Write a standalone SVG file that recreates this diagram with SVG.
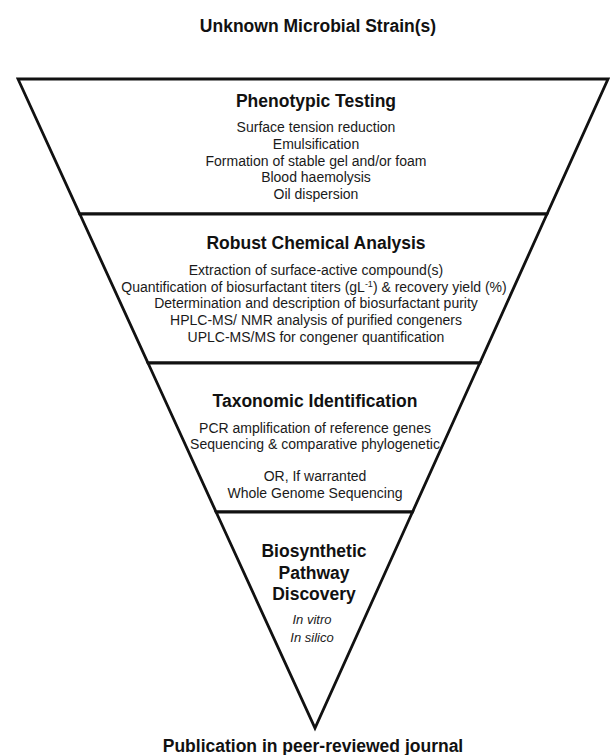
<svg xmlns="http://www.w3.org/2000/svg" width="610" height="755" viewBox="0 0 610 755">
<style>
  .stage { fill: #ffffff; stroke: #111111; stroke-width: 2.8; stroke-linejoin: miter; }
  .title { font-family: "Liberation Sans", Arial, sans-serif; font-weight: bold; font-size: 17.5px; fill: #111111; text-anchor: middle; }
  .body { font-family: "Liberation Sans", Arial, sans-serif; font-size: 14px; fill: #1a1a1a; text-anchor: middle; }
  .ital { font-family: "Liberation Sans", Arial, sans-serif; font-style: italic; font-size: 13px; fill: #1a1a1a; text-anchor: middle; }
</style>
<rect width="610" height="755" fill="#ffffff"/>
<g id="start">
  <text class="title" x="318" y="32">Unknown Microbial Strain(s)</text>
</g>
<g id="phenotypic-testing">
  <polygon class="stage" points="18,79 608,79 547,214 79.8,214"/>
  <text class="title" x="316" y="107">Phenotypic Testing</text>
  <text class="body" x="316" y="132">Surface tension reduction</text>
  <text class="body" x="316" y="149">Emulsification</text>
  <text class="body" x="316" y="166">Formation of stable gel and/or foam</text>
  <text class="body" x="316" y="182">Blood haemolysis</text>
  <text class="body" x="316" y="199">Oil dispersion</text>
</g>
<g id="robust-chemical-analysis">
  <polygon class="stage" points="79.8,214 547,214 479.8,363 148,363"/>
  <text class="title" x="316" y="249">Robust Chemical Analysis</text>
  <text class="body" x="316" y="275">Extraction of surface-active compound(s)</text>
  <text class="body" x="314" y="292">Quantification of biosurfactant titers (gL<tspan font-size="9" dy="-5">-1</tspan><tspan dy="5">) &amp; recovery yield (%)</tspan></text>
  <text class="body" x="316" y="308">Determination and description of biosurfactant purity</text>
  <text class="body" x="316" y="325">HPLC-MS/ NMR analysis of purified congeners</text>
  <text class="body" x="316" y="342">UPLC-MS/MS for congener quantification</text>
</g>
<g id="taxonomic-identification">
  <polygon class="stage" points="148,363 479.8,363 412.5,512 216.1,512"/>
  <text class="title" x="315" y="407">Taxonomic Identification</text>
  <text class="body" x="315" y="433">PCR amplification of reference genes</text>
  <text class="body" x="315" y="449">Sequencing &amp; comparative phylogenetic</text>
  <text class="body" x="315" y="481">OR, If warranted</text>
  <text class="body" x="315" y="498">Whole Genome Sequencing</text>
</g>
<g id="biosynthetic-pathway-discovery">
  <polygon class="stage" points="216.1,512 412.5,512 315,728"/>
  <text class="title" x="314" y="557">Biosynthetic</text>
  <text class="title" x="314" y="579">Pathway</text>
  <text class="title" x="314" y="600">Discovery</text>
  <text class="ital" x="312" y="624">In vitro</text>
  <text class="ital" x="312" y="642">In silico</text>
</g>
<g id="publication">
  <text class="title" x="313" y="752">Publication in peer-reviewed journal</text>
</g>
</svg>
